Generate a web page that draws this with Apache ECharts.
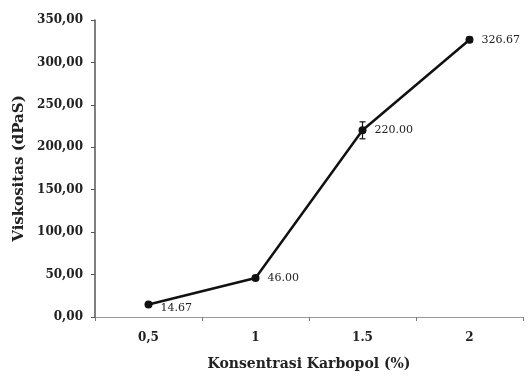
<!DOCTYPE html>
<html><head><meta charset="utf-8">
<script src="https://cdn.jsdelivr.net/npm/echarts@6/dist/echarts.min.js"></script>
<style>html,body{margin:0;padding:0;background:#fff}#c{width:530px;height:376px}</style>
</head><body><div id="c"></div>
<script>
var categoryLabels = ['0,5', '1', '1.5', '2'];
var viscosity = [14.67, 46.00, 220.00, 326.67];
var errors = [1, 2, 10, 3];
var valueLabels = ['14.67', '46.00', '220.00', '326.67'];

var font = 'DejaVu Serif';
var chart = echarts.init(document.getElementById('c'));
var errData = categoryLabels.map(function (c, i) { return [i, viscosity[i] - errors[i], viscosity[i] + errors[i]]; });
var lineData = viscosity.map(function (v, i) {
  return i === 0 ? { value: v, label: { offset: [0, 4] } } : v;
});
chart.setOption({
  animation: false,
  grid: { left: 95, right: 7, top: 20, bottom: 56 },
  xAxis: {
    type: 'category', data: categoryLabels, boundaryGap: true,
    name: 'Konsentrasi Karbopol (%)', nameLocation: 'middle', nameGap: 40,
    nameTextStyle: { fontFamily: font, fontWeight: 'bold', fontSize: 14, color: '#222' },
    axisLine: { lineStyle: { color: '#999', width: 1 } },
    axisTick: { show: true, alignWithLabel: false, length: 4, lineStyle: { color: '#777' } },
    axisLabel: { fontFamily: font, fontWeight: 'bold', fontSize: 12, color: '#222', margin: 15 }
  },
  yAxis: {
    type: 'value', min: 0, max: 350, interval: 50,
    name: 'Viskositas (dPaS)', nameLocation: 'middle', nameGap: 62, nameRotate: 90,
    nameTextStyle: { fontFamily: font, fontWeight: 'bold', fontSize: 15, color: '#222' },
    axisLine: { show: true, lineStyle: { color: '#555', width: 1.5 } },
    axisTick: { show: true, length: 4, lineStyle: { color: '#555' } },
    splitLine: { show: false },
    axisLabel: { fontFamily: font, fontWeight: 'bold', fontSize: 12, color: '#222', margin: 12,
      formatter: function (v) { return v.toFixed(2).replace('.', ','); } }
  },
  series: [
    {
      type: 'line', data: lineData, symbol: 'circle', symbolSize: 8,
      itemStyle: { color: '#111' }, lineStyle: { color: '#111', width: 2.5 },
      label: { show: true, position: 'right', distance: 8, fontFamily: font, fontSize: 11, color: '#222',
        formatter: function (p) { return valueLabels[p.dataIndex]; } },
      z: 3
    },
    {
      type: 'custom', data: errData, z: 4,
      renderItem: function (params, api) {
        var x = api.value(0);
        var lo = api.coord([x, api.value(1)]);
        var hi = api.coord([x, api.value(2)]);
        var w = 3;
        var st = { stroke: '#111', lineWidth: 1.2 };
        return { type: 'group', children: [
          { type: 'line', shape: { x1: lo[0], y1: lo[1], x2: hi[0], y2: hi[1] }, style: st },
          { type: 'line', shape: { x1: lo[0] - w, y1: lo[1], x2: lo[0] + w, y2: lo[1] }, style: st },
          { type: 'line', shape: { x1: hi[0] - w, y1: hi[1], x2: hi[0] + w, y2: hi[1] }, style: st }
        ] };
      }
    }
  ]
});
</script></body></html>
